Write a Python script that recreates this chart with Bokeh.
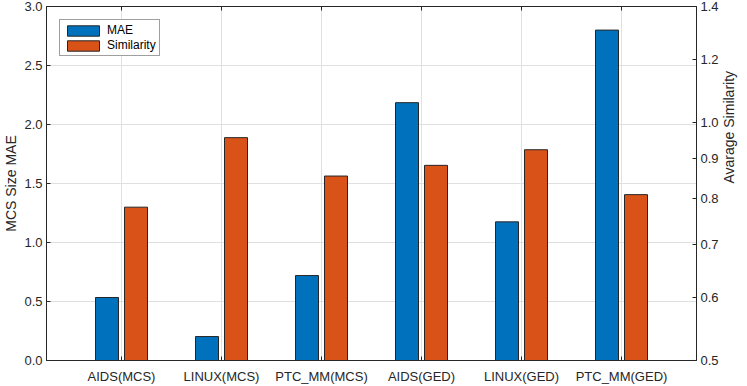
import math
from bokeh.plotting import figure
from bokeh.models import (Range1d, LinearAxis, LogAxis, LogScale, FixedTicker,
                          PrintfTickFormatter, Legend, LegendItem, ColumnDataSource)
from bokeh.embed import file_html
from bokeh.resources import INLINE

categories = ["AIDS(MCS)", "LINUX(MCS)", "PTC_MM(MCS)", "AIDS(GED)", "LINUX(GED)", "PTC_MM(GED)"]
mae = [0.534, 0.203, 0.72, 2.185, 1.175, 2.80]
similarity = [0.781, 0.956, 0.855, 0.882, 0.923, 0.810]
left_ticks = [0.0, 0.5, 1.0, 1.5, 2.0, 2.5, 3.0]
right_ticks = [0.5, 0.6, 0.7, 0.8, 0.9, 1.0, 1.2, 1.4]

FONT = "Liberation Sans"
AX = "#262626"
BLUE = "#0072BD"
ORANGE = "#D95319"

xs = [i + 1 for i in range(len(categories))]
offset = 0.145
bw = 0.23

src = ColumnDataSource(dict(
    x_mae=[x - offset for x in xs],
    x_sim=[x + offset for x in xs],
    mae=mae,
    sim=similarity,
    base=[right_ticks[0]] * len(xs),
))

p = figure(width=747, height=386, output_backend="svg", toolbar_location=None,
           x_range=Range1d(0.25, 6.75), y_range=Range1d(left_ticks[0], left_ticks[-1]),
           min_border_top=6, min_border_left=0, min_border_right=0, min_border_bottom=0)
p.extra_y_ranges = {"sim": Range1d(right_ticks[0], right_ticks[-1])}
p.extra_y_scales = {"sim": LogScale()}
p.outline_line_color = AX
p.outline_line_width = 1

# grids
p.xgrid.ticker = FixedTicker(ticks=xs)
p.ygrid.ticker = FixedTicker(ticks=left_ticks)
for g in (p.xgrid, p.ygrid):
    g.grid_line_color = "#e0e0e0"
    g.grid_line_width = 1

r1 = p.vbar(x="x_mae", top="mae", bottom=0, width=bw, source=src,
            fill_color=BLUE, line_color=AX, line_width=1)
r2 = p.vbar(x="x_sim", top="sim", bottom="base", width=bw, source=src,
            fill_color=ORANGE, line_color=AX, line_width=1, y_range_name="sim")

def style(ax):
    ax.axis_line_color = AX
    ax.major_tick_line_color = AX
    ax.minor_tick_line_color = None
    ax.major_tick_in = 4
    ax.major_tick_out = 0
    ax.major_label_text_font = FONT
    ax.major_label_text_font_size = "13px"
    ax.major_label_text_color = AX
    ax.axis_label_text_font = FONT
    ax.axis_label_text_font_size = "14px"
    ax.axis_label_text_font_style = "normal"
    ax.axis_label_text_color = AX

xa = p.xaxis[0]
style(xa)
xa.ticker = FixedTicker(ticks=xs)
xa.major_label_overrides = {x: c for x, c in zip(xs, categories)}
xa.major_label_standoff = 8
xa.axis_label = None

ya = p.yaxis[0]
style(ya)
ya.ticker = FixedTicker(ticks=left_ticks)
ya.formatter = PrintfTickFormatter(format="%.1f")
ya.axis_label = "MCS Size MAE"
ya.major_label_standoff = 4
ya.axis_label_standoff = 2

ra = LogAxis(y_range_name="sim", ticker=FixedTicker(ticks=right_ticks),
             formatter=PrintfTickFormatter(format="%.1f"), axis_label="Avarage Similarity")
style(ra)
ra.major_label_standoff = 4
ra.axis_label_standoff = 7
ra.axis_label_orientation = math.pi / 2
p.add_layout(ra, "right")

ta = LinearAxis(ticker=FixedTicker(ticks=xs), major_label_overrides={x: "" for x in xs})
style(ta)
ta.major_label_standoff = 0
ta.major_label_text_font_size = "1px"
ta.axis_label = None
p.add_layout(ta, "above")

legend = Legend(items=[LegendItem(label="MAE", renderers=[r1]),
                       LegendItem(label="Similarity", renderers=[r2])],
                location="top_left")
legend.glyph_width = 40
legend.glyph_height = 13
legend.label_height = 13
legend.label_text_font = FONT
legend.label_text_font_size = "12px"
legend.label_text_color = "#000000"
legend.label_standoff = 4
legend.spacing = 1
legend.padding = 3
legend.margin = 13
legend.border_line_color = "#404040"
legend.border_line_width = 1
legend.background_fill_alpha = 1
p.add_layout(legend)

open("out.html", "w").write(file_html(p, INLINE))
